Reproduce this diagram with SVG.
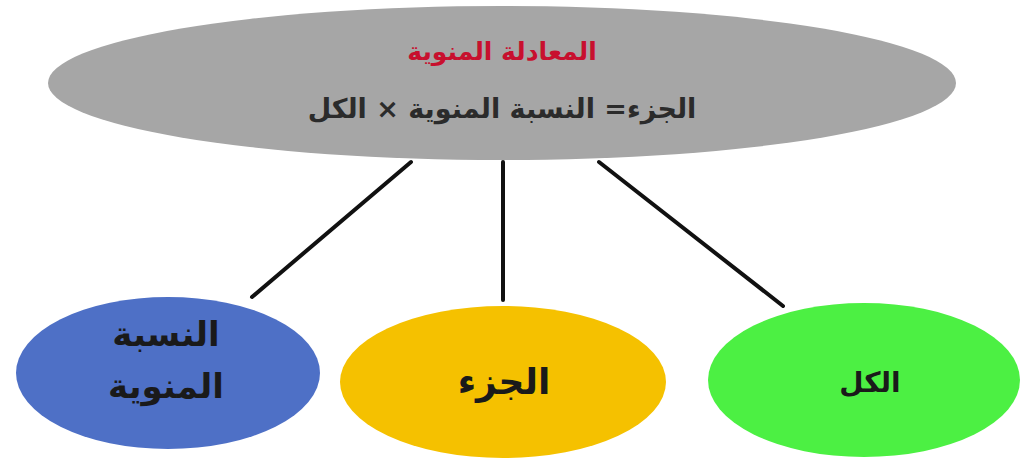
<svg xmlns="http://www.w3.org/2000/svg" width="1020" height="459" viewBox="0 0 1020 459">
<style>
.ar{font-family:"DejaVu Sans","Noto Sans",sans-serif;font-weight:bold;text-anchor:middle;direction:rtl}
.conn{stroke:#111;stroke-width:4;fill:none;stroke-linecap:round}
</style>
<rect width="1020" height="459" fill="#ffffff"/>
<g id="connectors">
<line class="conn" x1="411" y1="162" x2="252" y2="297"/>
<line class="conn" x1="503" y1="162" x2="503" y2="300"/>
<line class="conn" x1="599" y1="162" x2="783" y2="306"/>
</g>
<g id="node-equation">
<ellipse cx="502" cy="83" rx="454" ry="77" fill="#a6a6a6"/>
<text class="ar" x="502" y="60" font-size="25" fill="#c8102e">المعادلة المنوية</text>
<text class="ar" x="502" y="118" font-size="27" fill="#2b2b2b">الجزء= النسبة المنوية × الكل</text>
</g>
<g id="node-percent">
<ellipse cx="168" cy="373" rx="152" ry="76" fill="#4e70c6"/>
<text class="ar" x="166" y="346" font-size="34" fill="#1a1a1a">النسبة</text>
<text class="ar" x="166" y="398" font-size="34" fill="#1a1a1a">المنوية</text>
</g>
<g id="node-part">
<ellipse cx="503" cy="382" rx="163" ry="76" fill="#f5c100"/>
<text class="ar" x="504" y="394" font-size="36" fill="#1a1a1a">الجزء</text>
</g>
<g id="node-whole">
<ellipse cx="864" cy="380" rx="156" ry="77" fill="#4cf043"/>
<text class="ar" x="870" y="392" font-size="28" fill="#1a1a1a">الكل</text>
</g>
</svg>
